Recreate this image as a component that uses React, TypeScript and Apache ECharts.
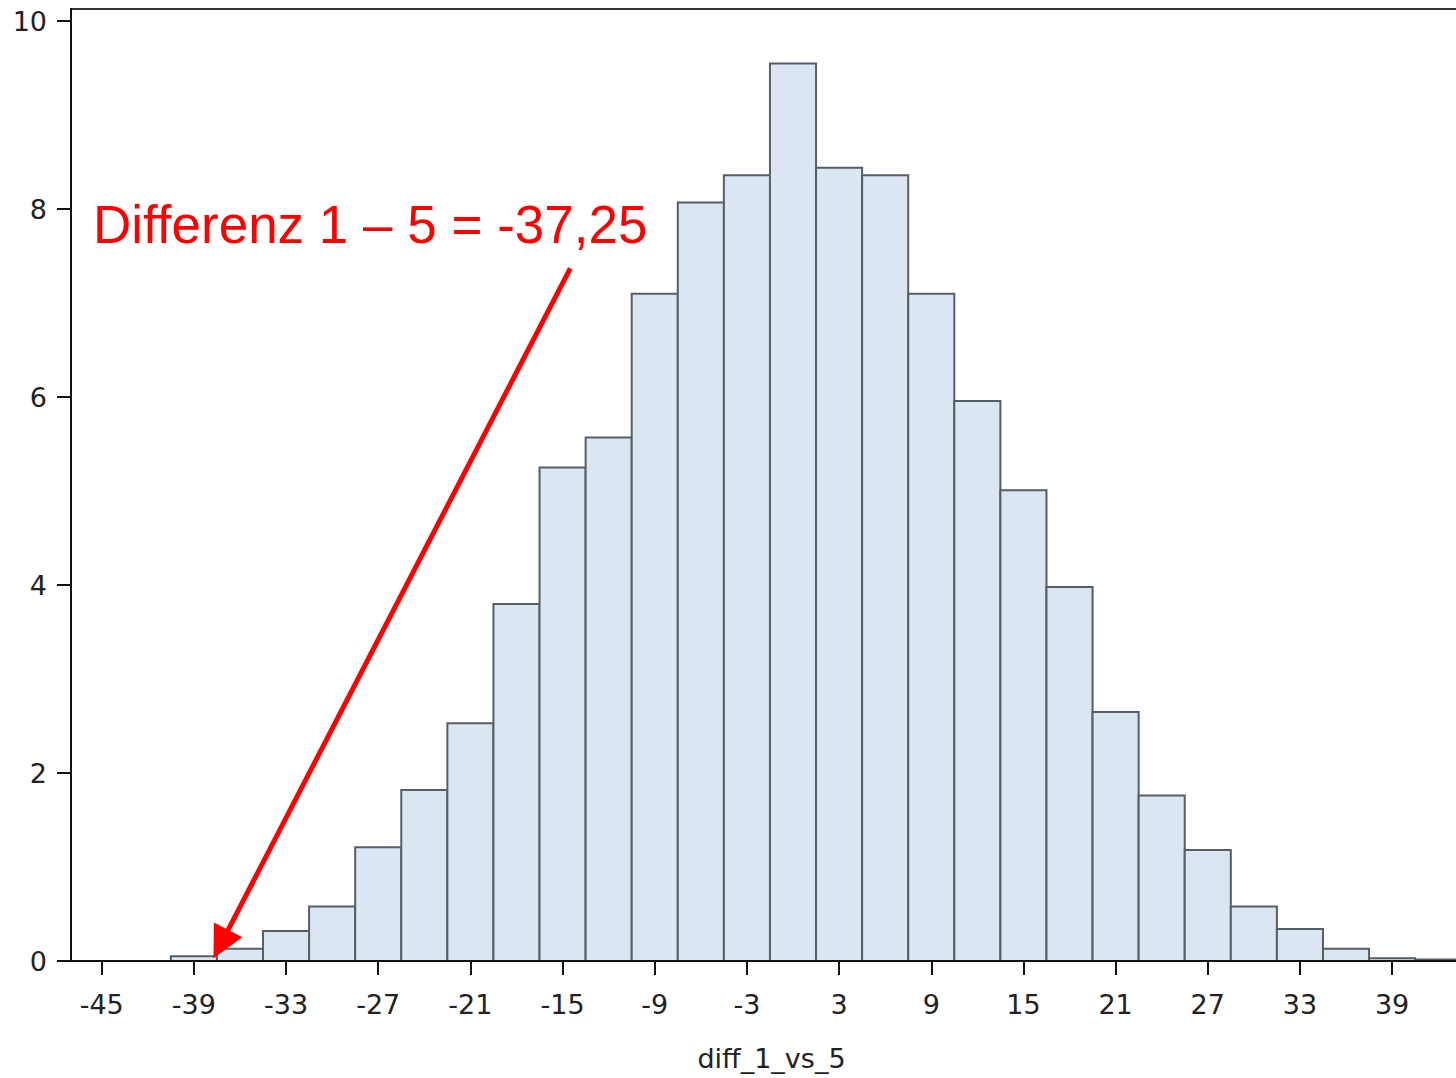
import React, { useEffect, useRef } from "react";
import * as echarts from "echarts";

// Histogram bins (centres) and heights (percent)
const binCenters = [-39, -36, -33, -30, -27, -24, -21, -18, -15, -12, -9, -6, -3, 0, 3, 6, 9, 12, 15, 18, 21, 24, 27, 30, 33, 36, 39, 42];
const binPercents = [0.05, 0.13, 0.32, 0.58, 1.21, 1.82, 2.53, 3.8, 5.25, 5.57, 7.1, 8.07, 8.36, 9.55, 8.44, 8.36, 7.1, 5.96, 5.01, 3.98, 2.65, 1.76, 1.18, 0.58, 0.34, 0.13, 0.03, 0.015];
const binWidth = 3;

const xTickValues = [-45, -39, -33, -27, -21, -15, -9, -3, 3, 9, 15, 21, 27, 33, 39];
const yTickValues = [0, 2, 4, 6, 8, 10];

const xName = "diff_1_vs_5";
const annotationText = "Differenz 1 \u2013 5 = -37,25";
const arrowFrom = [-14.5, 7.37];
const arrowTo = [-37.25, 0.18];

const AXIS_FONT = "'DejaVu Sans', 'Liberation Sans', Arial, sans-serif";
const TEXT_FONT = "'Liberation Sans', Arial, sans-serif";

export default function App() {
  const ref = useRef<HTMLDivElement>(null);

  useEffect(() => {
    document.body.style.margin = "0";
    if (!ref.current) return;
    const chart = echarts.init(ref.current, undefined, { renderer: "svg" });

    const data = binCenters.map((c, i) => [c, binPercents[i]]);

    const option: any = {
      animation: false,
      backgroundColor: "#ffffff",
      grid: {
        left: 71,
        top: 9,
        width: 1401,
        height: 952,
        outerBoundsMode: "none",
        containLabel: false,
        show: true,
        borderColor: "#333333",
        borderWidth: 2,
        backgroundColor: "transparent",
      },
      xAxis: {
        type: "value",
        min: -47,
        max: 44.2,
        z: 5,
        name: xName,
        nameLocation: "middle",
        nameGap: 84,
        nameTextStyle: { fontFamily: AXIS_FONT, fontSize: 27, color: "#222222" },
        axisLine: { show: true, onZero: false, lineStyle: { color: "#111111", width: 2 } },
        axisTick: {
          show: true,
          inside: false,
          length: 14,
          customValues: xTickValues,
          lineStyle: { color: "#111111", width: 2 },
        },
        axisLabel: {
          show: true,
          customValues: xTickValues,
          margin: 30,
          fontFamily: AXIS_FONT,
          fontSize: 27,
          color: "#222222",
        },
        splitLine: { show: false },
      },
      yAxis: {
        type: "value",
        min: 0,
        max: 10.13,
        z: 5,
        axisLine: { show: true, onZero: false, lineStyle: { color: "#111111", width: 2 } },
        axisTick: {
          show: true,
          inside: false,
          length: 14,
          customValues: yTickValues,
          lineStyle: { color: "#111111", width: 2 },
        },
        axisLabel: {
          show: true,
          customValues: yTickValues,
          margin: 24,
          fontFamily: AXIS_FONT,
          fontSize: 27,
          color: "#222222",
        },
        splitLine: { show: false },
      },
      series: [
        {
          type: "custom",
          clip: true,
          data,
          renderItem: (_params: any, api: any) => {
            const c = api.value(0);
            const v = api.value(1);
            const p0 = api.coord([c - binWidth / 2, v]);
            const p1 = api.coord([c + binWidth / 2, 0]);
            return {
              type: "rect",
              shape: { x: p0[0], y: p0[1], width: p1[0] - p0[0], height: p1[1] - p0[1] },
              style: { fill: "#dce6f2", stroke: "#565e66", lineWidth: 2 },
            };
          },
        },
        {
          type: "line",
          data: [],
          z: 10,
          markLine: {
            silent: true,
            animation: false,
            symbol: ["none", "triangle"],
            symbolSize: [32, 32],
            lineStyle: { color: "#ff0000", width: 5, type: "solid" },
            label: { show: false },
            emphasis: { disabled: true },
            data: [
              [
                { coord: arrowFrom, symbol: "none" },
                { coord: arrowTo, symbol: "triangle", symbolSize: [32, 32] },
              ],
            ],
          },
        },
      ],
      graphic: [
        {
          type: "text",
          left: 93,
          top: 198,
          z: 20,
          style: {
            text: annotationText,
            fontFamily: TEXT_FONT,
            fontSize: 53,
            fill: "#ff0000",
          },
        },
      ],
    };

    chart.setOption(option);
    return () => chart.dispose();
  }, []);

  return <div ref={ref} style={{ width: 1456, height: 1078 }} />;
}
